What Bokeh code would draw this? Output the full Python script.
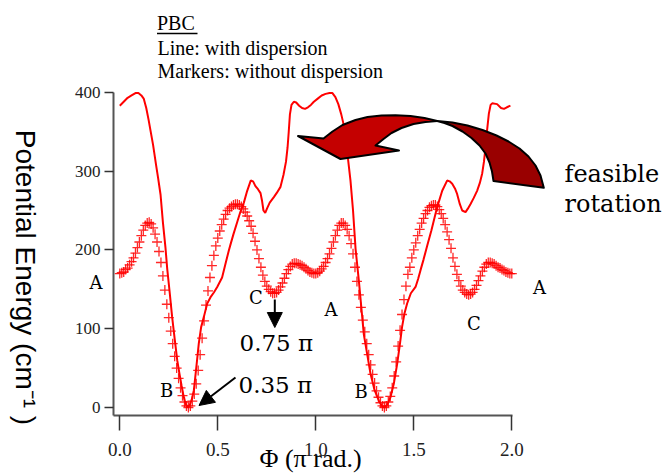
from bokeh.plotting import figure
from bokeh.models import (Range1d, FixedTicker, PrintfTickFormatter, LinearAxis,
                          Arrow, NormalHead)
from bokeh.core.properties import value
from bokeh.embed import file_html
from bokeh.resources import INLINE
import math

# ---------------- data ----------------
# torsion angle (units of pi) for the sampled potential (markers: without dispersion)
phi_markers = [round(0.01 * i, 2) for i in range(201)]
energy_markers = [
    170, 171, 172, 175, 177, 181, 185, 190, 196, 203,
    210, 218, 225, 231, 234, 235, 233, 228, 220, 210,
    198, 184, 167, 149, 131, 114, 97, 81, 65, 50,
    37, 25, 15, 7, 2, 0, 2, 8, 17, 30,
    47, 67, 88, 110, 130, 148, 165, 180, 193, 205,
    215, 224, 232, 239, 245, 250, 253, 255, 257, 258,
    258, 257, 255, 252, 248, 243, 237, 230, 221, 211,
    200, 189, 178, 168, 160, 154, 150, 147, 145, 145,
    146, 149, 153, 158, 164, 170, 175, 179, 182, 183,
    183, 182, 181, 180, 178, 176, 174, 172, 171, 170,
    170, 171, 173, 176, 179, 184, 189, 195, 202, 210,
    218, 225, 231, 234, 234, 231, 226, 218, 208, 195,
    178, 160, 143, 127, 111, 96, 81, 67, 54, 42,
    31, 21, 13, 6, 2, 0, 2, 7, 14, 25,
    40, 58, 78, 98, 118, 137, 154, 169, 178, 190,
    200, 209, 218, 226, 234, 240, 246, 250, 254, 256,
    257, 257, 255, 251, 246, 240, 232, 223, 213, 202,
    190, 179, 169, 161, 154, 149, 146, 144, 143, 144,
    146, 150, 155, 161, 167, 173, 178, 182, 184, 184,
    183, 182, 180, 178, 177, 175, 174, 172, 171, 170,
    170,
]

# potential with dispersion (line)
phi_line = [
    0.000, 0.02, 0.04, 0.06, 0.08, 0.095, 0.11, 0.122, 0.135, 0.147,
    0.157, 0.17, 0.185, 0.195, 0.208, 0.22, 0.233, 0.242, 0.255, 0.267,
    0.28, 0.293, 0.305, 0.315, 0.325, 0.335, 0.347, 0.357, 0.367, 0.378,
    0.39, 0.403, 0.415, 0.429, 0.446, 0.463, 0.48, 0.497, 0.522, 0.539,
    0.556, 0.565, 0.58, 0.60, 0.615, 0.633, 0.65, 0.668, 0.68, 0.692,
    0.705, 0.718, 0.726, 0.733, 0.742, 0.752, 0.765, 0.786, 0.80, 0.82,
    0.835, 0.848, 0.856, 0.862, 0.868, 0.876, 0.888, 0.90, 0.915, 0.93,
    0.945, 0.96, 0.975, 0.99,
    1.01, 1.03, 1.05, 1.07, 1.085, 1.10, 1.115, 1.13, 1.143, 1.16,
    1.177, 1.19, 1.203, 1.22, 1.245, 1.262, 1.279, 1.30, 1.321, 1.34,
    1.352, 1.365, 1.381, 1.398, 1.415, 1.43, 1.44, 1.453, 1.466, 1.485,
    1.509, 1.522, 1.534, 1.55, 1.568, 1.59, 1.619, 1.645, 1.67, 1.683,
    1.696, 1.71, 1.721, 1.735, 1.747, 1.764, 1.775, 1.789, 1.806, 1.823,
    1.837, 1.849, 1.858, 1.866, 1.874, 1.883, 1.892, 1.90, 1.925, 1.945,
    1.96, 1.975, 1.993,
]
energy_line = [
    383, 388, 393, 396, 399, 399, 396, 392, 380, 365,
    351, 333, 308, 292, 270, 235, 203, 176, 145, 115,
    87, 60, 42, 28, 15, 5, 0, 3, 10, 22,
    50, 81, 102, 115, 132, 140, 146, 153, 165, 182,
    199, 207, 220, 236, 248, 260, 275, 288, 287, 281,
    277, 272, 262, 250, 247, 253, 260, 267, 272, 280,
    295, 312, 330, 350, 372, 384, 388, 387, 383, 380,
    379, 381, 384, 388,
    392, 396, 398, 399, 399, 394, 385, 372, 358, 325,
    288, 250, 201, 160, 93, 68, 43, 22, 9, 1,
    0, 4, 13, 30, 55, 82, 102, 120, 132, 145,
    153, 163, 174, 188, 205, 225, 254, 275, 288, 287,
    284, 278, 271, 258, 250, 248, 252, 258, 266, 275,
    285, 297, 312, 330, 352, 373, 384, 386, 385, 380,
    379, 381, 383,
]

x_ticks = [0.0, 0.5, 1.0, 1.5, 2.0]
y_ticks = [0, 100, 200, 300, 400]

# ---------------- geometry (picture pixels) ----------------
W, H = 666, 473
XS, YS = -0.0321, -10.15          # data values where the axes sit
PXX, PXY = 196.0, 0.788           # pixels per data unit
FL, FB = 113, 415                 # pixel position of the y axis / x axis


def pg(px, py):
    """picture pixel -> data coordinates"""
    return XS + (px - FL) / PXX, YS + (FB - py) / PXY


# the frame fills the whole canvas; axes are pinned at fixed locations
p = figure(width=W, height=H, output_backend="svg", toolbar_location=None,
           x_range=Range1d(XS - FL / PXX, XS + (W - FL) / PXX),
           y_range=Range1d(YS - (H - FB) / PXY, YS + FB / PXY),
           x_axis_type=None, y_axis_type=None,
           min_border_left=0, min_border_right=0, min_border_top=0,
           min_border_bottom=0)
p.outline_line_color = None
p.background_fill_color = "white"
p.border_fill_color = "white"

xaxis = LinearAxis(fixed_location=YS, bounds=(XS, 2.005),
                   ticker=FixedTicker(ticks=x_ticks),
                   formatter=PrintfTickFormatter(format="%.1f"))
yaxis = LinearAxis(fixed_location=XS, bounds=(YS, 400),
                   ticker=FixedTicker(ticks=y_ticks),
                   formatter=PrintfTickFormatter(format="%d"))
for ax in (xaxis, yaxis):
    ax.axis_line_color = "#555555"
    ax.axis_line_width = 2
    ax.major_tick_line_color = "#333333"
    ax.major_tick_line_width = 1.5
    ax.minor_tick_line_color = None
    ax.major_tick_in = 0
    ax.major_label_text_font = "Liberation Sans Narrow"
    ax.major_label_text_color = "#222222"
xaxis.major_tick_out = 15
xaxis.major_label_standoff = 12
xaxis.major_label_text_font_size = "19px"
yaxis.major_tick_out = 9
yaxis.major_label_standoff = 4
yaxis.major_label_text_font_size = "17px"
p.add_layout(xaxis, "below")
p.add_layout(yaxis, "left")

# markers and line
p.scatter(phi_markers, energy_markers, marker="cross", size=10,
          line_color="#ff0000", line_width=1.3, line_alpha=0.85)
p.line(phi_line, energy_line, line_color="#ff0000", line_width=2)

# curved "feasible rotation" arrow (twisted ribbon)
front = [(297.5, 135.5), (323, 138), (332, 131), (342, 124.5), (355, 119.5),
         (367, 116.5), (381, 115), (395, 114.7), (410, 115.5), (424, 117.5),
         (436.7, 120.5), (425, 121.5), (413, 123.5), (401, 127.5), (391, 132.5),
         (383, 138.5), (375, 145), (398.5, 150), (340, 158.5)]
back = [(436.7, 120.5), (452, 122), (467, 125), (482, 129.5), (496, 135),
        (508, 141), (519, 148), (528, 156), (535, 165), (540, 175),
        (543.3, 187.3), (493, 180.5), (491.5, 171), (489, 162), (485, 153),
        (479, 145), (471, 137.5), (462, 131), (452, 125.5), (444, 122.5)]
for poly, col in ((back, "#990000"), (front, "#c40000")):
    pts = [pg(*q) for q in poly]
    p.patch([a for a, b in pts], [b for a, b in pts], fill_color=col,
            line_color="black", line_width=2, line_join="round")

# texts (anchored at the vertical middle of their capitals)
serif = "Liberation Serif"
cm = "DejaVu Serif"


def txt(px, py, text, font, size, align="left", angle=0.0):
    x, y = pg(px, py)
    p.text(x=[x], y=[y], text=[text], text_font=value(font), text_font_size=size,
           text_align=align, text_baseline="middle", text_color="black", angle=angle)


txt(156.5, 22.5, "PBC", serif, "20px")
txt(157, 47.5, " Line: with dispersion", serif, "20px")
txt(157, 70.5, "Markers: without dispersion", serif, "20px")
ux0, uy = pg(156.5, 33)
ux1, _ = pg(197, 33)
p.segment(x0=[ux0], y0=[uy], x1=[ux1], y1=[uy], line_color="black", line_width=1.5)

txt(564, 173, "feasible", cm, "24px")
txt(564, 203.5, "rotation", cm, "24px")

txt(239, 342.5, "0.75 \u03c0", cm, "23px")
txt(238, 384, "0.35 \u03c0", cm, "23px")

for (px, py) in [(95.5, 281.5), (330.5, 309), (539, 286.5)]:
    txt(px, py, "A", cm, "18px", align="center")
for (px, py) in [(166, 390), (360.5, 390.5)]:
    txt(px, py, "B", cm, "18px", align="center")
for (px, py) in [(255.5, 296.5), (473.5, 322.5)]:
    txt(px, py, "C", cm, "18px", align="center")

txt(25, 277, "Potential Energy (cm\u207b\u00b9 )", "Liberation Sans", "28px",
    align="center", angle=-math.pi / 2)
txt(310, 458, "\u03a6 (\u03c0 rad.)", serif, "26px", align="center")

# small black arrows
xa0, ya0 = pg(274.3, 299)
xa1, ya1 = pg(274.3, 327)
p.add_layout(Arrow(end=NormalHead(size=15, fill_color="black", line_color="black"),
                   x_start=xa0, y_start=ya0, x_end=xa1, y_end=ya1,
                   line_color="black", line_width=2))
xb0, yb0 = pg(235, 377)
xb1, yb1 = pg(198.5, 405)
p.add_layout(Arrow(end=NormalHead(size=15, fill_color="black", line_color="black"),
                   x_start=xb0, y_start=yb0, x_end=xb1, y_end=yb1,
                   line_color="black", line_width=2))

open("out.html", "w").write(file_html(p, INLINE))
